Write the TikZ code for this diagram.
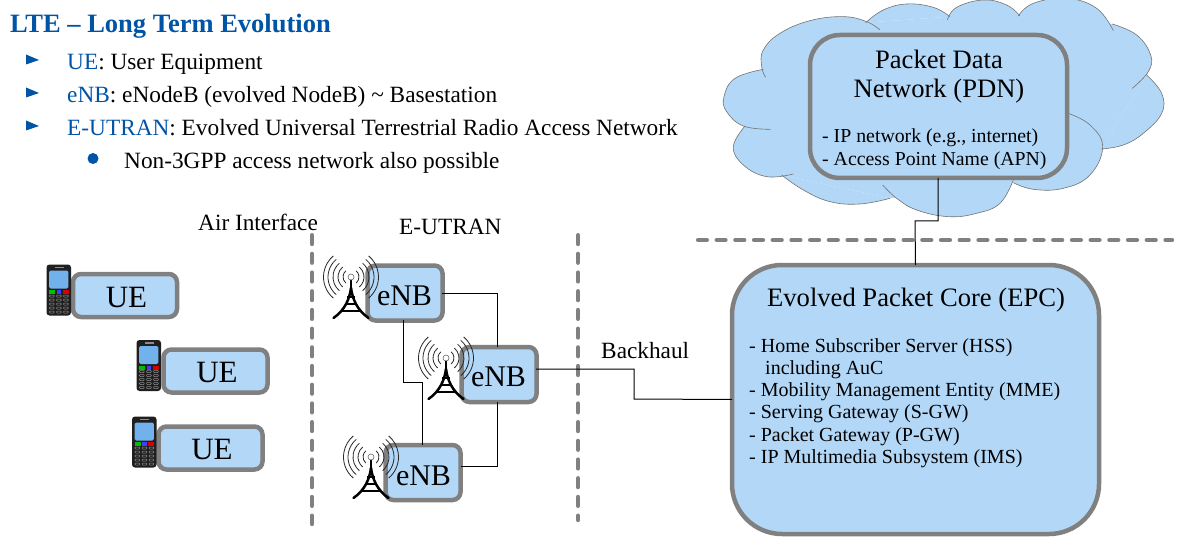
\documentclass[tikz,border=0pt]{standalone}
\usepackage{fontspec}
\setmainfont{Liberation Serif}
\definecolor{boxfill}{HTML}{B3D7F7}
\definecolor{boxedge}{HTML}{808080}
\definecolor{ltblue}{HTML}{0054A6}
\definecolor{phscreen}{HTML}{72B2EC}
\newcommand{\fs}[1]{\fontsize{#1}{#1}\selectfont}
\newcommand{\uetext}{\hspace*{3pt}UE}
\tikzset{
  box/.style={draw=boxedge,fill=boxfill,line width=4.5pt,rounded corners=8pt,inner sep=0pt,outer sep=0pt,font=\fs{31},text=black},
  ue/.style={box,minimum width=104pt,minimum height=43pt,text height=23pt,text depth=0pt},
  enb/.style={box,minimum width=75pt,minimum height=55pt},
  wire/.style={draw=black,line width=1pt},
  sep/.style={draw=boxedge,line width=4.4pt,line cap=round,dash pattern=on 8.8pt off 9.9pt},
  lbl/.style={anchor=base west,inner sep=0pt,font=\fs{23.3}},
  small/.style={anchor=north west,inner sep=0pt,align=left,font=\fontsize{20}{22.3}\selectfont},
  bult/.style={fill=ltblue},
  lobe/.style={draw=black!55,line width=0.6pt},
  phone/.pic={
    \fill[black!88] (0,0) [rounded corners=3pt] rectangle (24.5,51);
    \fill[black!45] (8,2) rectangle (17,3.6);
    \fill[phscreen] (2.7,6) [rounded corners=1.5pt] rectangle (21.8,24);
    \fill[green!75!black] (2.6,25.5) rectangle (8.6,29.5);
    \fill[blue!75!white] (10,25.5) rectangle (14.5,29.5);
    \fill[red!85!black] (16,25.5) rectangle (22,29.5);
    \foreach \yy in {31.5,35.5,39.5,43.5,47.5}
      \foreach \xx in {2.9,10,17}
        \draw[black!45,line width=0.5pt,rounded corners=0.8pt] (\xx,\yy-1) rectangle (\xx+4.8,\yy+1);
  },
  tower/.pic={
    \draw[black,line width=2.8pt,line cap=round] (0,1) -- (0,13);
    \draw[black,line width=2.5pt,line cap=round] (0,11) .. controls (-1.5,22) and (-6,33) .. (-17.5,41);
    \draw[black,line width=2.5pt,line cap=round] (0,11) .. controls (1.5,22) and (6,33) .. (17.5,41);
    \draw[black,line width=2pt] (-4,20) -- (4,20) (-6,27) -- (6,27) (-9,34) -- (9,34);
    \draw[black!60,line width=0.6pt,fill=white] (0,0) circle (3pt);
    \foreach \r in {8,13,18,23,27.5} {
      \draw[black!85,line width=0.8pt] (130:\r) arc (130:230:\r);
      \draw[black!85,line width=0.8pt] (50:\r) arc (50:-50:\r);
    }
  }
}
\begin{document}
\begin{tikzpicture}[x=1pt,y=-1pt]
\useasboundingbox (0,0) rectangle (1182,537);
% cloud
\begin{scope}[x=0.3333pt,y=-0.3333pt,shift={(700pt,0pt)}]
  \fill[boxfill] (190,208) -- (330,100) -- (497,68) -- (750,50) -- (955,48) -- (1237,72) -- (1345,215) -- (1340,225) -- (1205,447) -- (1000,560) -- (940,545) -- (570,595) -- (245,525) -- (135,378) -- cycle;
  \def\lobes{
    {(197,232) (185,200) (190,150) (240,100) (330,62) (430,50) (500,65) (540,90)},
    {(497,68) (550,30) (620,12) (700,22) (750,50)},
    {(742,60) (770,22) (850,0) (920,15) (960,48)},
    {(955,48) (1000,10) (1100,-5) (1190,25) (1240,92)},
    {(1237,72) (1310,105) (1352,165) (1345,215) (1297,265)},
    {(1340,225) (1385,280) (1385,340) (1330,400) (1270,435) (1205,447)},
    {(1105,340) (1170,375) (1208,440) (1170,525) (1090,565) (1000,568) (940,548)},
    {(940,540) (900,610) (830,640) (745,650) (650,630) (590,595) (548,555)},
    {(570,595) (480,612) (390,605) (310,570) (245,525)},
    {(280,522) (200,530) (130,495) (100,440) (135,378)},
    {(212,388) (130,378) (80,335) (72,290) (105,235) (190,208)}}
  \foreach \c in \lobes {
    \edef\tmp{\noexpand\fill[boxfill] plot[smooth,tension=0.7] coordinates {\c};}\tmp
  }
  \foreach \c in \lobes {
    \edef\tmp{\noexpand\draw[lobe] plot[smooth,tension=0.7] coordinates {\c};}\tmp
  }
\end{scope}
% separators
\coordinate (s1a) at (312,235.2); \coordinate (s1b) at (312,524);
\coordinate (s2a) at (578,235.2); \coordinate (s2b) at (578,520);
\coordinate (s3a) at (698,240); \coordinate (s3b) at (1172,240);
\draw[sep] (s1a) -- (s1b);
\draw[sep] (s2a) -- (s2b);
\draw[sep] (s3a) -- (s3b);
% boxes
\node[box,minimum width=257pt,minimum height=143pt,rounded corners=30pt] (pdn) at (938.5,106.5) {};
\node[box,minimum width=367pt,minimum height=269pt,rounded corners=50pt] (epc) at (915.5,399.5) {};
\node[ue] (ue1) at (125,295.5) {\uetext};
\node[ue] (ue2) at (215.5,371) {\uetext};
\node[ue] (ue3) at (210.5,448) {\uetext};
\node[enb] (enb1) at (405,293) {};
\node[enb] (enb2) at (499,374.5) {};
\node[enb] (enb3) at (423,472.5) {};
% wires
\coordinate (w1a) at (403,320); \coordinate (w1b) at (403,382); \coordinate (w1c) at (422,382); \coordinate (w1d) at (422,445);
\coordinate (w2a) at (442,293); \coordinate (w2b) at (497,293); \coordinate (w2c) at (497,347);
\coordinate (w3a) at (497,402); \coordinate (w3b) at (497,466); \coordinate (w3c) at (461,466);
\coordinate (w4a) at (536,369); \coordinate (w4b) at (634,369); \coordinate (w4c) at (634,399);
\coordinate (w5a) at (938,178); \coordinate (w5b) at (938,221); \coordinate (w5c) at (915,221);
\draw[wire] (w1a) -- (w1b) -- (w1c) -- (w1d);
\draw[wire] (w2a) -- (w2b) -- (w2c);
\draw[wire] (w3a) -- (w3b) -- (w3c);
\draw[wire] (w4a) -- (w4b) -- (w4c) -- (epc.west);
\draw[wire] (w5a) -- (w5b) -- (w5c) -- (epc.north);
% icons
\pic at (46.5,264.5) {phone};
\pic at (136.5,340) {phone};
\pic at (132,416.5) {phone};
\pic at (351,277) {tower};
\pic at (446,358) {tower};
\pic at (371,457) {tower};
% box labels
\node[anchor=base,inner sep=0pt,font=\fs{30}] (t1) at (404.5,305) {eNB};
\node[anchor=base,inner sep=0pt,font=\fs{30}] (t2) at (498.5,386) {eNB};
\node[anchor=base,inner sep=0pt,font=\fs{30}] (t3) at (423.5,485) {eNB};
\node[anchor=base,inner sep=0pt,align=center,font=\fontsize{26.6}{29}\selectfont] (pdnt) at (939,98) {Packet Data\\Network (PDN)};
\node[small,font=\fontsize{19.8}{22.4}\selectfont] (pdnb) at (822,129) {- IP network (e.g., internet)\\- Access Point Name (APN)};
\node[anchor=base,inner sep=0pt,font=\fs{26.6}] (epct) at (916,306) {Evolved Packet Core (EPC)};
\node[small] (epcb) at (749,338) {- Home Subscriber Server (HSS)\\\hspace*{16pt}including AuC\\- Mobility Management Entity (MME)\\- Serving Gateway (S-GW)\\- Packet Gateway (P-GW)\\- IP Multimedia Subsystem (IMS)};
% free labels
\node[lbl] (air) at (198,230) {Air Interface};
\node[lbl] (etr) at (399,234) {E-UTRAN};
\node[lbl] (bh) at (601,358) {Backhaul};
% header
\node[anchor=base west,inner sep=0pt,font=\bfseries\fs{26.5},text=ltblue] (title) at (10,33) {LTE – Long Term Evolution};
\node[lbl] (l1) at (67,70) {\textcolor{ltblue}{UE}: User Equipment};
\node[lbl] (l2) at (67,103) {\textcolor{ltblue}{eNB}: eNodeB (evolved NodeB) \textasciitilde{} Basestation};
\node[lbl] (l3) at (67,136) {\textcolor{ltblue}{E-UTRAN}: Evolved Universal Terrestrial Radio Access Network};
\node[lbl] (l4) at (124,169) {Non-3GPP access network also possible};
\foreach \yy in {60,93,126} \fill[bult] (26,\yy-5.5) -- (39,\yy) -- (26,\yy+4.5) -- cycle;
\fill[bult] (93,158.5) circle (5.5pt);
\end{tikzpicture}
\end{document}
